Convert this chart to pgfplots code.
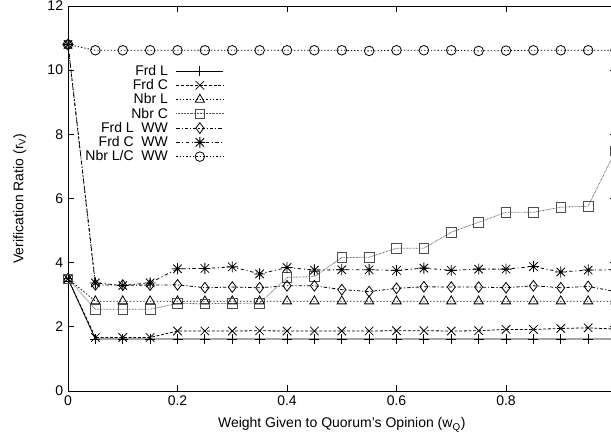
\documentclass[border=0pt]{standalone}
\usepackage{fontspec}
\setmainfont{Liberation Sans}
\usepackage{pgfplots}
\pgfplotsset{compat=1.18}
\usepackage{pgfplotstable}

\pgfdeclareplotmark{pluscross}{%
  \pgfpathmoveto{\pgfqpoint{-\pgfplotmarksize}{0pt}}%
  \pgfpathlineto{\pgfqpoint{\pgfplotmarksize}{0pt}}%
  \pgfpathmoveto{\pgfqpoint{0pt}{-\pgfplotmarksize}}%
  \pgfpathlineto{\pgfqpoint{0pt}{\pgfplotmarksize}}%
  \pgfpathmoveto{\pgfqpoint{-0.75\pgfplotmarksize}{-0.75\pgfplotmarksize}}%
  \pgfpathlineto{\pgfqpoint{0.75\pgfplotmarksize}{0.75\pgfplotmarksize}}%
  \pgfpathmoveto{\pgfqpoint{-0.75\pgfplotmarksize}{0.75\pgfplotmarksize}}%
  \pgfpathlineto{\pgfqpoint{0.75\pgfplotmarksize}{-0.75\pgfplotmarksize}}%
  \pgfusepathqstroke}

\pgfplotstableread{
x    FrdL FrdC NbrL NbrC FLW  FCW  NW
0    3.5  3.5  3.5  3.5  10.8 10.8 10.8
0.05 1.62 1.67 2.80 2.55 3.31 3.37 10.62
0.10 1.62 1.67 2.80 2.55 3.30 3.29 10.62
0.15 1.62 1.67 2.80 2.55 3.30 3.37 10.62
0.20 1.62 1.87 2.80 2.73 3.31 3.81 10.62
0.25 1.62 1.87 2.80 2.72 3.22 3.82 10.62
0.30 1.62 1.87 2.80 2.73 3.24 3.87 10.62
0.35 1.62 1.88 2.80 2.74 3.22 3.65 10.62
0.40 1.62 1.87 2.80 3.54 3.28 3.85 10.62
0.45 1.62 1.87 2.80 3.57 3.28 3.77 10.62
0.50 1.62 1.87 2.80 4.16 3.16 3.78 10.62
0.55 1.62 1.87 2.80 4.17 3.10 3.78 10.60
0.60 1.62 1.88 2.80 4.45 3.20 3.76 10.62
0.65 1.62 1.88 2.80 4.45 3.25 3.83 10.62
0.70 1.62 1.87 2.80 4.95 3.24 3.76 10.62
0.75 1.62 1.88 2.80 5.26 3.24 3.80 10.60
0.80 1.62 1.92 2.80 5.57 3.22 3.80 10.61
0.85 1.62 1.92 2.80 5.57 3.28 3.88 10.62
0.90 1.62 1.95 2.80 5.73 3.22 3.71 10.62
0.95 1.62 1.97 2.80 5.76 3.26 3.77 10.62
1.00 1.62 1.93 2.80 7.49 3.10 3.78 10.62
}\data

\begin{document}
\fontsize{10.5}{12.6}\selectfont
\begin{tikzpicture}
\begin{axis}[
  name=ax,
  width=410.6pt, height=288.75pt, scale only axis,
  xmin=0, xmax=1, ymin=0, ymax=12,
  xtick={0,0.2,0.4,0.6,0.8,1}, xticklabels={0,0.2,0.4,0.6,0.8,{}},
  ytick={0,2,4,6,8,10,12},
  tick align=inside, major tick length=4.5pt,
  axis line style={line width=0.7pt},
  tick style={line width=0.6pt, black},
  /pgf/number format/assume math mode=true,
  tick label style={font=\fontsize{10.5}{12.6}\selectfont},
  label style={font=\fontsize{10.5}{12.6}\selectfont},
  xlabel={Weight Given to Quorum's Opinion (w\textsubscript{Q})},
  ylabel={Verification Ratio (r\textsubscript{V})},
  xlabel style={at={(axis description cs:0.5,-0.096)}, anchor=base},
  ylabel style={at={(axis description cs:-0.088,0.5)}, anchor=center},
  legend cell align=right, legend plot pos=right,
  legend style={draw=none, fill=none, inner sep=0pt,
    at={(axis cs:0.285,10.2)}, anchor=north east,
    font=\fontsize{10.5}{12.6}\selectfont,
    nodes={inner sep=1pt, text height=7.5pt, text depth=1pt},
    row sep=0.2pt,
    /tikz/every odd column/.append style={column sep=5pt}},
  legend image code/.code={\draw[mark repeat=2,mark phase=2,#1] plot coordinates {(0cm,0cm) (0.62cm,0cm) (1.24cm,0cm)};},
  every axis plot/.append style={line width=0.6pt, black, mark options={solid}},
]
\addplot[mark=+, mark size=3.75pt] table[x=x,y=FrdL]{\data};
\addlegendentry{Frd L}
\addplot[dash pattern=on 2.2pt off 1.3pt, mark=x, mark size=4.5pt] table[x=x,y=FrdC]{\data};
\addlegendentry{Frd C}
\addplot[dash pattern=on 1pt off 1.5pt, mark=triangle, mark size=4pt] table[x=x,y=NbrL]{\data};
\addlegendentry{Nbr L}
\addplot[black!65, dash pattern=on 0.5pt off 0.6pt, mark=square, mark size=3.6pt, mark options={solid, draw=black!70}] table[x=x,y=NbrC]{\data};
\addlegendentry{Nbr C}
\addplot[dash pattern=on 2.5pt off 1.5pt on 0.8pt off 1.5pt, mark=diamond, mark size=4pt] table[x=x,y=FLW]{\data};
\addlegendentry{Frd L\ \ WW}
\addplot[dash pattern=on 2.5pt off 2pt on 0.8pt off 2pt, mark=pluscross, mark size=4.2pt] table[x=x,y=FCW]{\data};
\addlegendentry{Frd C\ \ WW}
\addplot[dash pattern=on 1pt off 1.5pt, mark=o, mark size=3.6pt] table[x=x,y=NW]{\data};
\addlegendentry{Nbr L/C\ \ WW}
\end{axis}
\pgfresetboundingbox
\path[use as bounding box] ([shift={(-51pt,-35.25pt)}]ax.south west) rectangle ([shift={(-3.4pt,4.5pt)}]ax.north east);
\end{tikzpicture}
\end{document}
